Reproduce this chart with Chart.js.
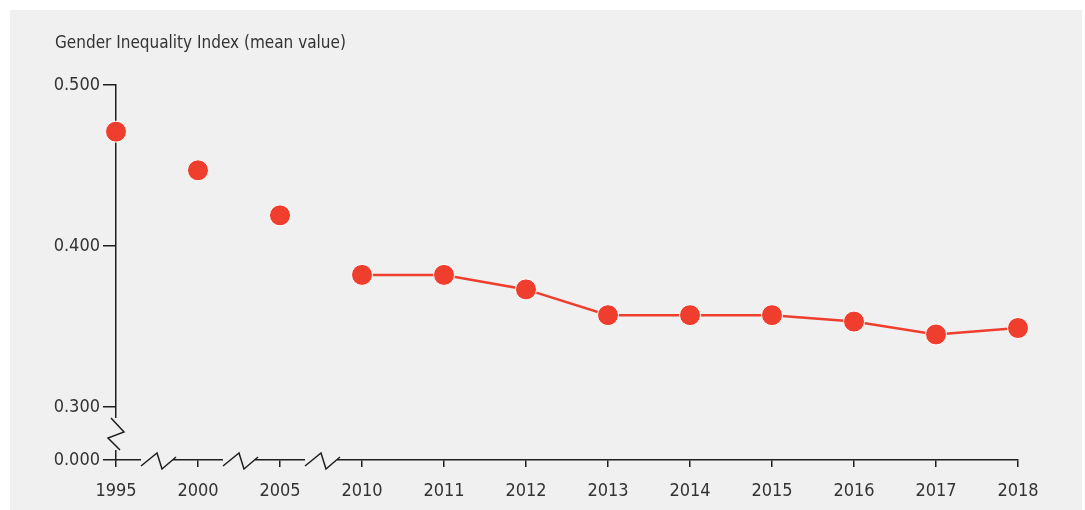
<!DOCTYPE html>
<html>
<head>
<meta charset="utf-8">
<script src="https://cdn.jsdelivr.net/npm/chart.js@4.4.1/dist/chart.umd.min.js"></script>
<style>
  html, body { margin: 0; padding: 0; background: #fff; }
  canvas { display: block; }
</style>
</head>
<body>
<canvas id="giiChart" width="1085" height="510"></canvas>
<script>
// data
const titleText = 'Gender Inequality Index (mean value)';
const years = ['1995', '2000', '2005', '2010', '2011', '2012', '2013', '2014', '2015', '2016', '2017', '2018'];
const giiValues = [0.471, 0.447, 0.419, 0.382, 0.382, 0.373, 0.357, 0.357, 0.357, 0.353, 0.345, 0.349];
const yTickValues = [0.300, 0.400, 0.500];
const lineStartIndex = 3; // the line only joins the yearly points from 2010 on

// the axis is broken below 0.300, so 0.000 sits just under it
const breakValue = 0.267;

const red = '#ef3e2d';
const axisColor = '#1e1e1e';
const textColor = '#333333';
const bgColor = '#f0f0f0';
const fontFamily = "'Liberation Sans Narrow', 'DejaVu Sans Condensed', Roboto, sans-serif";

// grey panel behind the chart + the title above the y axis
const backgroundPanel = {
    id: 'backgroundPanel',
    beforeDraw(chart) {
        const ctx = chart.ctx;
        ctx.save();
        ctx.fillStyle = '#ffffff';
        ctx.fillRect(0, 0, chart.width, chart.height);
        ctx.fillStyle = bgColor;
        ctx.fillRect(10, 10, 1072, 500);

        ctx.fillStyle = textColor;
        ctx.font = '17px ' + fontFamily;
        ctx.textAlign = 'left';
        ctx.textBaseline = 'middle';
        ctx.fillText(titleText, 55, 44);
        ctx.restore();
    }
};

// zigzag marks where the axes are broken
const axisBreaks = {
    id: 'axisBreaks',
    afterDraw(chart) {
        const ctx = chart.ctx;
        const x = chart.scales.x;
        const y = chart.scales.y;
        const left = chart.chartArea.left;
        const bottom = y.getPixelForValue(breakValue);

        ctx.save();
        ctx.lineWidth = 1.5;
        ctx.strokeStyle = axisColor;

        // y axis
        ctx.fillStyle = bgColor;
        ctx.fillRect(left - 3, bottom - 42, 6, 32);
        ctx.beginPath();
        ctx.moveTo(left - 5, bottom - 42);
        ctx.lineTo(left + 8, bottom - 28);
        ctx.lineTo(left - 8, bottom - 22);
        ctx.lineTo(left + 4, bottom - 10);
        ctx.stroke();

        // x axis, between the five-year steps
        for (let i = 0; i < lineStartIndex; i++) {
            const c = (x.getPixelForValue(i) + x.getPixelForValue(i + 1)) / 2;
            ctx.fillStyle = bgColor;
            ctx.fillRect(c - 16, bottom - 3, 32, 6);
            ctx.beginPath();
            ctx.moveTo(c - 16, bottom + 6);
            ctx.lineTo(c, bottom - 7);
            ctx.lineTo(c + 5, bottom + 9);
            ctx.lineTo(c + 19, bottom - 3);
            ctx.stroke();
        }
        ctx.restore();
    }
};

const ctx = document.getElementById('giiChart').getContext('2d');
new Chart(ctx, {
    type: 'line',
    data: {
        labels: years,
        datasets: [{
            data: giiValues,
            borderColor: red,
            borderWidth: 2.5,
            backgroundColor: red,
            pointBackgroundColor: red,
            pointBorderColor: '#ffffff',
            pointBorderWidth: 1,
            pointRadius: 10.5,
            pointHoverRadius: 10.5,
            clip: false,
            segment: {
                borderColor: c => c.p0DataIndex < lineStartIndex ? 'transparent' : red
            }
        }]
    },
    options: {
        responsive: false,
        animation: false,
        events: [],
        layout: { padding: { left: 36, right: 67, top: 85, bottom: 0 } },
        plugins: {
            legend: { display: false },
            tooltip: { enabled: false },
            title: { display: false }
        },
        scales: {
            x: {
                offset: false,
                afterFit: scale => { scale.height = 50; },
                grid: { drawOnChartArea: false, tickLength: 7, color: axisColor, lineWidth: 1.5 },
                border: { color: axisColor, width: 1.5 },
                ticks: {
                    color: textColor,
                    padding: 14,
                    maxRotation: 0,
                    font: { family: fontFamily, size: 18 }
                }
            },
            y: {
                min: breakValue,
                max: 0.5,
                afterBuildTicks: scale => {
                    scale.ticks = [breakValue].concat(yTickValues).map(v => ({ value: v }));
                },
                afterFit: scale => { scale.width = 80; },
                grid: { drawOnChartArea: false, tickLength: 13, color: axisColor, lineWidth: 1.5 },
                border: { color: axisColor, width: 1.5 },
                ticks: {
                    color: textColor,
                    padding: 3,
                    font: { family: fontFamily, size: 18 },
                    callback: v => v === breakValue ? '0.000' : v.toFixed(3)
                }
            }
        }
    },
    plugins: [backgroundPanel, axisBreaks]
});
</script>
</body>
</html>
